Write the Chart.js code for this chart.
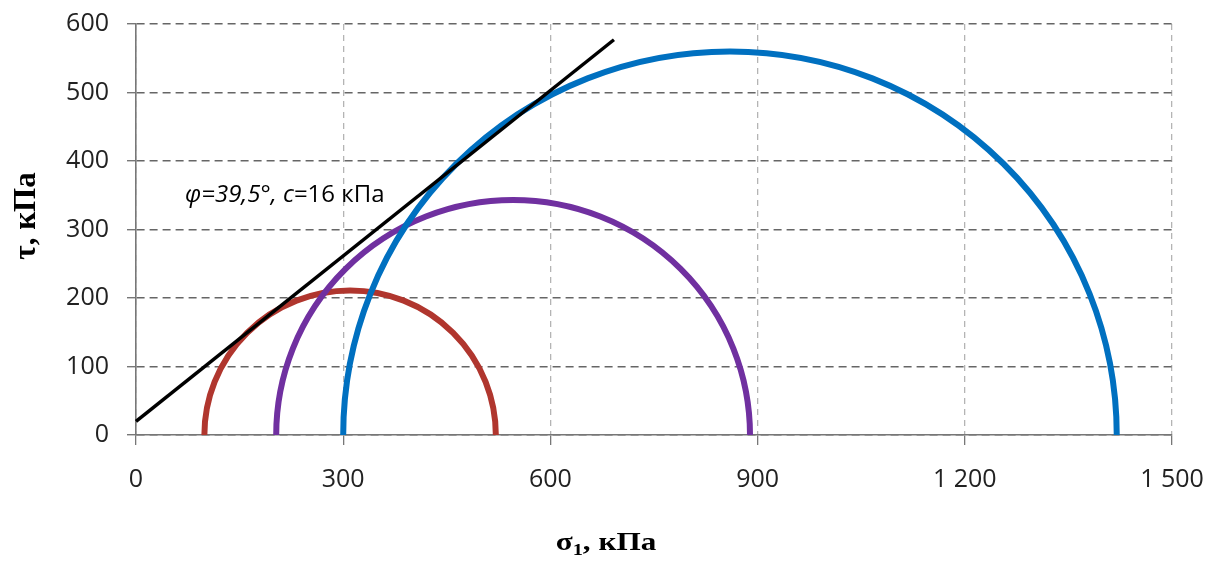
<!DOCTYPE html>
<html>
<head>
<meta charset="utf-8">
<script src="https://cdn.jsdelivr.net/npm/chart.js@4"></script>
<style>
  html, body { margin: 0; padding: 0; background: #fff; }
</style>
</head>
<body>
<canvas id="mohr" width="1216" height="563"></canvas>
<script>
// Mohr circles (kPa): centre on the sigma axis and radius
const circleCenters = [310, 546, 860];
const circleRadii = [211, 343, 560];

// strength envelope, end points
const envelopeX = [0, 692];
const envelopeY = [20, 577];

const xTicks = [0, 300, 600, 900, 1200, 1500];
const yTicks = [0, 100, 200, 300, 400, 500, 600];

const envelopeLabel = { italic: 'φ=39,5°, c', normal: '=16 кПа', x: 71, y: 340 };

function formatThousands(v) {
    return v >= 1000 ? Math.floor(v / 1000) + ' ' + String(v % 1000).padStart(3, '0') : String(v);
}

const mohrCircles = {
    id: 'mohrCircles',
    beforeDatasetsDraw(chart, args, opts) {
        const { ctx, scales: { x, y } } = chart;
        ctx.save();
        ctx.lineWidth = opts.width;
        ctx.lineCap = 'butt';
        circleCenters.forEach((c, i) => {
            const cx = x.getPixelForValue(c);
            const cy = y.getPixelForValue(0);
            const rx = x.getPixelForValue(c + circleRadii[i]) - cx;
            const ry = cy - y.getPixelForValue(circleRadii[i]);
            ctx.strokeStyle = opts.colors[i];
            ctx.beginPath();
            ctx.ellipse(cx, cy, rx, ry, 0, Math.PI, 2 * Math.PI);
            ctx.stroke();
        });
        ctx.restore();
    }
};

const axisTitles = {
    id: 'axisTitles',
    afterDraw(chart) {
        const { ctx, scales: { x, y } } = chart;
        ctx.save();
        ctx.fillStyle = '#000';

        // envelope label
        const lx = x.getPixelForValue(envelopeLabel.x);
        const ly = y.getPixelForValue(envelopeLabel.y);
        ctx.textBaseline = 'alphabetic';
        ctx.textAlign = 'left';
        ctx.font = 'italic 24px "Open Sans"';
        ctx.fillText(envelopeLabel.italic, lx, ly);
        const w = ctx.measureText(envelopeLabel.italic).width;
        ctx.font = '24px "Open Sans"';
        ctx.fillText(envelopeLabel.normal, lx + w, ly);

        // x title with subscript, slightly widened like the original
        const big = 'bold 26px "Liberation Serif"', small = 'bold 17px "Liberation Serif"';
        ctx.font = big;
        const wMain = ctx.measureText('σ').width;
        const wRest = ctx.measureText(', кПа').width;
        ctx.font = small;
        const wSub = ctx.measureText('1').width;
        const total = wMain + wSub + wRest;
        ctx.save();
        ctx.translate(606, 550);
        ctx.scale(1.2, 1);
        let tx = -total / 2;
        ctx.font = big;
        ctx.fillText('σ', tx, 0);
        tx += wMain;
        ctx.font = small;
        ctx.fillText('1', tx, 5);
        tx += wSub;
        ctx.font = big;
        ctx.fillText(', кПа', tx, 0);
        ctx.restore();

        // y title
        ctx.translate(27, 216);
        ctx.rotate(-Math.PI / 2);
        ctx.textAlign = 'center';
        ctx.textBaseline = 'middle';
        ctx.font = 'bold 31px "Liberation Serif"';
        ctx.fillText('τ, кПа', 0, 0);
        ctx.restore();
    }
};

new Chart(document.getElementById('mohr'), {
    type: 'scatter',
    data: {
        datasets: [{
            label: 'envelope',
            data: envelopeX.map((v, i) => ({ x: v, y: envelopeY[i] })),
            showLine: true,
            borderColor: '#000',
            borderWidth: 3.5,
            pointRadius: 0,
            clip: false
        }]
    },
    options: {
        responsive: false,
        animation: false,
        layout: { padding: { left: 0, top: 24, right: 44, bottom: 0 } },
        scales: {
            x: {
                type: 'linear',
                min: 0,
                max: 1500,
                afterBuildTicks: (s) => { s.ticks = xTicks.map(v => ({ value: v })); },
                afterFit: (s) => { s.height = 128; s.paddingLeft = 0; s.paddingRight = 0; },
                ticks: {
                    padding: 20,
                    color: '#222',
                    font: { family: 'Open Sans', size: 25 },
                    maxRotation: 0,
                    callback: (v) => formatThousands(v)
                },
                grid: {
                    color: '#b4b4b4',
                    lineWidth: 1.3,
                    tickColor: '#777',
                    tickLength: 10,
                    tickBorderDash: []
                },
                border: { color: '#777', width: 1.6, dash: [6, 5] }
            },
            y: {
                type: 'linear',
                min: 0,
                max: 600,
                afterBuildTicks: (s) => { s.ticks = yTicks.map(v => ({ value: v })); },
                afterFit: (s) => { s.width = 136; s.paddingTop = 0; s.paddingBottom = 0; },
                ticks: {
                    padding: 18,
                    color: '#222',
                    font: { family: 'Open Sans', size: 25 }
                },
                grid: {
                    color: '#666',
                    lineWidth: 1.4,
                    tickColor: '#777',
                    tickLength: 9,
                    tickBorderDash: []
                },
                border: { color: '#777', width: 1.6, dash: [8, 5] }
            }
        },
        plugins: {
            legend: { display: false },
            tooltip: { enabled: false },
            mohrCircles: { width: 6, colors: ['#b0362e', '#7030a0', '#0070c0'] }
        }
    },
    plugins: [mohrCircles, axisTitles]
});
</script>
</body>
</html>
